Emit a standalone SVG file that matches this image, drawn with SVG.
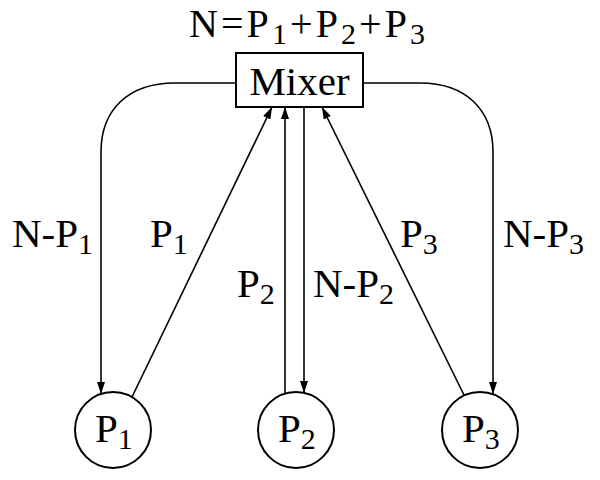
<svg xmlns="http://www.w3.org/2000/svg" width="600" height="480" viewBox="0 0 600 480">
<defs>
<style>
.t{font-family:"Liberation Serif","Times New Roman",serif;font-size:41px;fill:#000}
.s{font-size:30px}
.c{fill:none;stroke:#000;stroke-width:1.6}
.n{fill:#fff;stroke:#000;stroke-width:2}
</style>
<marker id="ah" viewBox="0 0 12 8" refX="12" refY="4" markerWidth="12" markerHeight="8" markerUnits="userSpaceOnUse" orient="auto">
<path d="M0,0 L12,4 L0,8 Z" fill="#000"/>
</marker>
</defs>
<rect width="600" height="480" fill="#fff"/>
<text class="t" x="189" y="37" style="font-size:40px" textLength="236" lengthAdjust="spacing">N=P<tspan class="s" dy="7">1</tspan><tspan dy="-7">+P</tspan><tspan class="s" dy="7">2</tspan><tspan dy="-7">+P</tspan><tspan class="s" dy="7">3</tspan></text>
<g id="connectors">
<path class="c" d="M236,83 H175 C128,83 101,110 101,152 V394" marker-end="url(#ah)"/>
<path class="c" d="M363,83 H420 C466,83 493,110 493,152 V394" marker-end="url(#ah)"/>
<path class="c" d="M132,397 L272,107" marker-end="url(#ah)"/>
<path class="c" d="M285,394 V107" marker-end="url(#ah)"/>
<path class="c" d="M304,107 V393" marker-end="url(#ah)"/>
<path class="c" d="M464,395 L322,107" marker-end="url(#ah)"/>
<text class="t" x="12" y="247">N-P<tspan class="s" dy="7">1</tspan></text>
<text class="t" x="150" y="247">P<tspan class="s" dy="7">1</tspan></text>
<text class="t" x="237" y="297">P<tspan class="s" dy="7">2</tspan></text>
<text class="t" x="313" y="297">N-P<tspan class="s" dy="7">2</tspan></text>
<text class="t" x="400" y="247">P<tspan class="s" dy="7">3</tspan></text>
<text class="t" x="503" y="247">N-P<tspan class="s" dy="7">3</tspan></text>
</g>
<g id="mixer">
<rect class="n" x="236" y="53" width="127" height="54"/>
<text class="t" x="299.5" y="95" text-anchor="middle">Mixer</text>
</g>
<g id="p1">
<circle class="n" cx="113" cy="430" r="38"/>
<text class="t" x="95" y="442">P<tspan class="s" dy="7">1</tspan></text>
</g>
<g id="p2">
<circle class="n" cx="296" cy="430" r="38"/>
<text class="t" x="278" y="442">P<tspan class="s" dy="7">2</tspan></text>
</g>
<g id="p3">
<circle class="n" cx="480" cy="430" r="38"/>
<text class="t" x="462" y="442">P<tspan class="s" dy="7">3</tspan></text>
</g>
</svg>
